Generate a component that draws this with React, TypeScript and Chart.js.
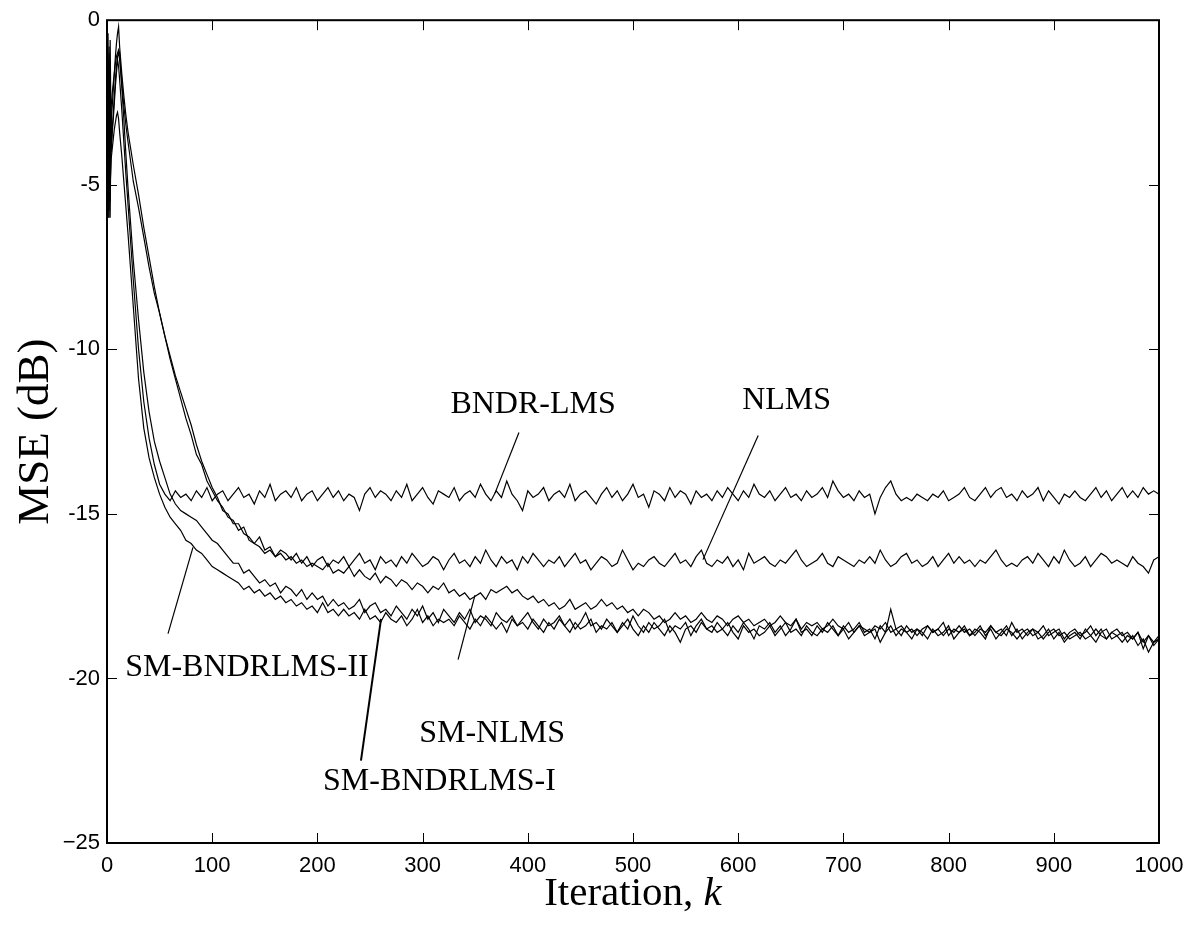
import React, { useEffect, useRef } from "react";
import { Chart, registerables } from "chart.js";

Chart.register(...registerables);

// Iteration grid: dense at the start, then every 5 iterations
const ITER_EARLY = [0, 1, 2, 3, 4, 5, 6, 7, 8, 9, 10, 11, 12, 14, 16, 18, 20];
const ITER_LATE_START = 25;
const ITER_LATE_STEP = 5;

const X_TICKS = [0, 100, 200, 300, 400, 500, 600, 700, 800, 900, 1000];
const Y_TICKS = [0, -5, -10, -15, -20, -25];
const Y_TICK_LABELS = ["0", "-5", "-10", "-15", "-20", "\u221225"];

// MSE (dB)
const BNDR_LMS = [
  -6.0, -0.4, -5.8, -2.2, -4.0, -3.4, -3.0, -2.5, -2.0, -1.6, -1.2, -1.4, -1.8, -2.7, -3.7, -4.7, -5.6,
  -7.9, -10.0, -11.6, -12.7, -13.5, -14.1, -14.4, -14.6, -14.3, -14.5,
  -14.4, -14.6, -14.3, -14.5, -14.2, -14.6, -14.4, -14.3, -14.6, -14.4,
  -14.2, -14.5, -14.4, -14.7, -14.3, -14.5, -14.1, -14.6, -14.4, -14.3,
  -14.5, -14.2, -14.6, -14.4, -14.3, -14.6, -14.4, -14.2, -14.5, -14.3,
  -14.6, -14.4, -14.5, -14.9, -14.4, -14.2, -14.5, -14.3, -14.4, -14.6,
  -14.3, -14.5, -14.1, -14.6, -14.4, -14.2, -14.5, -14.7, -14.3, -14.4,
  -14.5, -14.2, -14.6, -14.4, -14.3, -14.5, -14.1, -14.4, -14.6, -14.3,
  -14.5, -14.0, -14.4, -14.6, -14.9, -14.3, -14.5, -14.4, -14.2, -14.6,
  -14.4, -14.3, -14.5, -14.1, -14.6, -14.4, -14.3, -14.5, -14.7, -14.4,
  -14.2, -14.5, -14.3, -14.6, -14.4, -14.1, -14.5, -14.4, -14.8, -14.3,
  -14.4, -14.6, -14.2, -14.5, -14.3, -14.4, -14.7, -14.3, -14.5, -14.4,
  -14.6, -14.3, -14.5, -14.2, -14.4, -14.6, -14.3, -14.5, -14.1, -14.4,
  -14.5, -14.3, -14.6, -14.4, -14.2, -14.5, -14.4, -14.6, -14.3, -14.5,
  -14.4, -14.2, -14.5, -14.0, -14.3, -14.5, -14.4, -14.6, -14.3, -14.5,
  -14.4, -15.0, -14.5, -14.2, -14.0, -14.4, -14.6, -14.5, -14.6, -14.4,
  -14.5, -14.6, -14.4, -14.5, -14.3, -14.6, -14.5, -14.4, -14.2, -14.5,
  -14.6, -14.4, -14.2, -14.5, -14.3, -14.2, -14.5, -14.4, -14.6, -14.3,
  -14.5, -14.4, -14.2, -14.6, -14.3, -14.5, -14.7, -14.4, -14.5, -14.3,
  -14.5, -14.6, -14.4, -14.2, -14.5, -14.3, -14.6, -14.4, -14.2, -14.5,
  -14.3, -14.5, -14.2, -14.4, -14.3, -14.4,
];

const NLMS = [
  -0.3, -6.0, -1.0, -5.5, -3.0, -2.6, -2.1, -1.6, -1.1, -0.7, -0.4, -0.2, -0.8, -1.6, -2.3, -2.9, -3.4,
  -4.4, -5.3, -6.3, -7.2, -8.1, -8.9, -9.6, -10.3, -10.9, -11.5,
  -12.1, -12.6, -13.2, -13.5, -14.0, -14.3, -14.6, -14.8, -15.1, -15.2,
  -15.5, -15.4, -15.8, -15.9, -15.7, -16.1, -16.0, -16.3, -16.1, -16.2,
  -16.4, -16.2, -16.5, -16.3, -16.6, -16.4, -16.3, -16.6, -16.4, -16.5,
  -16.3, -16.6, -16.4, -16.2, -16.5, -16.4, -16.7, -16.3, -16.5, -16.4,
  -16.6, -16.3, -16.5, -16.2, -16.4, -16.6, -16.5, -16.3, -16.4, -16.7,
  -16.4, -16.2, -16.5, -16.4, -16.6, -16.3, -16.5, -16.1, -16.4, -16.6,
  -16.3, -16.5, -16.4, -16.7, -16.3, -16.5, -16.2, -16.4, -16.6, -16.4,
  -16.5, -16.3, -16.6, -16.4, -16.2, -16.5, -16.4, -16.7, -16.5, -16.3,
  -16.4, -16.6, -16.5, -16.1, -16.4, -16.7, -16.5, -16.6, -16.4, -16.3,
  -16.5, -16.6, -16.4, -16.2, -16.5, -16.4, -16.6, -16.3, -16.1, -16.5,
  -16.6, -16.4, -16.5, -16.3, -16.6, -16.4, -16.7, -16.2, -16.5, -16.4,
  -16.3, -16.5, -16.6, -16.4, -16.5, -16.3, -16.1, -16.4, -16.6, -16.5,
  -16.4, -16.2, -16.5, -16.6, -16.3, -16.4, -16.5, -16.6, -16.4, -16.5,
  -16.3, -16.5, -16.1, -16.4, -16.6, -16.5, -16.3, -16.2, -16.5, -16.4,
  -16.6, -16.5, -16.3, -16.6, -16.4, -16.2, -16.5, -16.3, -16.5, -16.4,
  -16.6, -16.4, -16.5, -16.3, -16.1, -16.4, -16.6, -16.5, -16.6, -16.4,
  -16.3, -16.5, -16.2, -16.4, -16.6, -16.3, -16.5, -16.1, -16.4, -16.6,
  -16.5, -16.3, -16.6, -16.4, -16.2, -16.3, -16.5, -16.4, -16.5, -16.6,
  -16.3, -16.5, -16.6, -16.8, -16.4, -16.3,
];

const SM_NLMS = [
  -5.8, -1.2, -6.0, -0.6, -3.8, -3.3, -2.8, -2.3, -1.8, -1.4, -1.1, -1.0, -1.2, -1.9, -2.6, -3.2, -3.7,
  -4.9, -5.7, -6.6, -7.5, -8.3, -8.9, -9.6, -10.2, -10.8, -11.3,
  -11.8, -12.3, -12.9, -13.4, -13.8, -14.2, -14.5, -14.9, -15.0, -15.3,
  -15.3, -15.6, -15.7, -15.9, -16.0, -16.2, -16.1, -16.3, -16.2, -16.4,
  -16.3, -16.5, -16.4, -16.6, -16.5, -16.6, -16.7, -16.5, -16.8, -16.7,
  -16.8, -16.6, -16.9, -16.7, -16.9, -17.0, -16.8, -17.1, -16.9, -17.0,
  -17.2, -17.0, -17.1, -17.3, -17.1, -17.2, -17.4, -17.2, -17.3, -17.1,
  -17.4, -17.3, -17.5, -17.4, -17.6, -17.5, -17.4, -17.6, -17.3, -17.4,
  -17.3, -17.2, -17.4, -17.3, -17.5, -17.6, -17.5, -17.7, -17.6, -17.8,
  -17.7, -17.9, -17.8, -17.6, -17.9, -17.8, -17.7, -17.9, -17.8, -17.6,
  -17.8, -17.7, -17.9, -17.8, -18.0, -17.9, -18.1, -17.9, -18.0, -18.2,
  -18.1, -18.3, -18.2, -18.0, -18.2, -18.1, -18.3, -18.2, -18.0, -18.2,
  -18.3, -18.1, -18.2, -18.4, -18.2, -18.1, -18.3, -18.2, -18.4, -18.3,
  -18.2, -18.4, -18.3, -18.1, -18.3, -18.4, -18.2, -18.5, -18.3, -18.4,
  -18.3, -18.5, -18.4, -18.2, -18.4, -18.5, -18.3, -18.6, -18.4, -18.5,
  -18.6, -18.4, -18.5, -18.3, -18.6, -18.5, -18.4, -18.6, -18.5, -18.7,
  -18.5, -18.4, -18.6, -18.5, -18.7, -18.5, -18.6, -18.4, -18.6, -18.5,
  -18.7, -18.5, -18.6, -18.4, -18.6, -18.7, -18.5, -18.6, -18.8, -18.6,
  -18.5, -18.7, -18.6, -18.8, -18.6, -18.5, -18.7, -18.6, -18.8, -18.7,
  -18.6, -18.8, -18.7, -18.5, -18.7, -18.8, -18.6, -18.7, -18.9, -18.7,
  -18.8, -18.6, -18.9, -18.7, -19.0, -18.8,
];

const SM_BNDRLMS_I = [
  -2.0, -5.5, -0.8, -6.0, -2.6, -2.2, -1.9, -1.6, -1.3, -1.1, -1.0, -0.9, -1.0, -2.0, -3.0, -4.1, -5.1,
  -7.3, -9.1, -10.7, -11.9, -12.8, -13.4, -13.9, -14.4, -14.7, -14.9,
  -15.0, -15.1, -15.2, -15.4, -15.6, -15.8, -15.9, -16.1, -16.3, -16.5,
  -16.5, -16.8, -16.7, -16.9, -17.1, -17.0, -17.2, -17.1, -17.4, -17.2,
  -17.3, -17.5, -17.3, -17.6, -17.4, -17.6, -17.5, -17.8, -17.6, -17.8,
  -17.7, -17.9, -17.8, -17.6, -18.0, -17.8, -17.7, -18.0, -17.9, -18.1,
  -17.8, -18.0, -18.2, -17.9, -18.1, -17.8, -18.2, -18.0, -18.3, -17.9,
  -18.1, -18.3, -18.0, -18.2, -17.9, -18.3, -18.1, -18.2, -18.4, -18.0,
  -18.2, -18.3, -18.1, -18.4, -18.2, -18.0, -18.3, -18.5, -18.2, -18.4,
  -18.3, -18.1, -18.4, -18.2, -18.5, -18.3, -18.0, -18.4, -18.3, -18.5,
  -18.2, -18.4, -18.6, -18.3, -18.5, -18.1, -18.4, -18.6, -18.3, -18.5,
  -18.4, -18.2, -18.6, -18.4, -18.5, -18.3, -18.7, -18.4, -18.2, -18.5,
  -18.6, -18.3, -18.5, -18.7, -18.4, -18.6, -18.3, -18.5, -18.8, -18.4,
  -18.5, -18.3, -18.6, -18.4, -18.7, -18.5, -18.2, -18.6, -18.5, -18.7,
  -18.4, -18.6, -18.3, -18.5, -18.7, -18.4, -18.6, -18.5, -18.3, -18.6,
  -18.5, -18.8, -18.4, -18.6, -17.9, -18.5, -18.7, -18.4, -18.6, -18.5,
  -18.7, -18.4, -18.6, -18.5, -18.3, -18.7, -18.5, -18.6, -18.4, -18.7,
  -18.5, -18.6, -18.8, -18.4, -18.6, -18.5, -18.7, -18.3, -18.6, -18.5,
  -18.7, -18.5, -18.6, -18.4, -18.7, -18.6, -18.5, -18.8, -18.6, -18.5,
  -18.7, -18.6, -18.4, -18.7, -18.5, -18.8, -18.6, -18.5, -18.7, -18.6,
  -18.8, -18.6, -19.1, -18.7, -18.9, -18.7,
];

const SM_BNDRLMS_II = [
  -4.0, -6.0, -2.5, -5.0, -4.2, -3.9, -3.6, -3.3, -3.1, -2.9, -2.8, -3.0, -3.4, -4.1, -4.9, -5.7, -6.5,
  -8.7, -10.9, -12.4, -13.3, -13.9, -14.4, -14.8, -15.1, -15.3, -15.5,
  -15.8, -15.9, -16.1, -16.2, -16.4, -16.6, -16.7, -16.8, -16.9, -17.0,
  -17.1, -17.3, -17.2, -17.4, -17.3, -17.5, -17.4, -17.6, -17.5, -17.7,
  -17.6, -17.8, -17.7, -17.9, -17.8, -18.0, -17.7, -18.0, -17.9, -18.1,
  -17.9, -18.1, -18.0, -18.2, -17.9, -18.2, -18.1, -18.3, -18.0, -18.2,
  -18.3, -18.1, -18.4, -18.2, -17.9, -18.3, -18.1, -18.4, -18.2, -18.3,
  -18.2, -18.4, -18.1, -18.3, -18.5, -18.2, -18.4, -18.1, -18.3, -18.5,
  -18.3, -18.6, -18.2, -18.4, -18.3, -18.5, -18.2, -18.4, -18.6, -18.3,
  -18.5, -18.2, -18.4, -18.6, -18.3, -18.5, -18.4, -18.2, -18.6, -18.4,
  -18.5, -18.3, -18.6, -18.4, -18.2, -18.5, -18.7, -18.4, -18.6, -18.3,
  -18.5, -18.7, -18.4, -18.6, -18.9, -18.5, -18.4, -18.6, -18.3, -18.5,
  -18.4, -18.6, -18.5, -18.3, -18.6, -18.8, -18.4, -18.6, -18.5, -18.7,
  -18.6, -18.4, -18.7, -18.5, -18.3, -18.6, -18.5, -18.7, -18.4, -18.6,
  -18.7, -18.5, -18.6, -18.4, -18.7, -18.5, -18.8, -18.6, -18.4, -18.7,
  -18.6, -18.5, -18.9, -18.6, -18.4, -18.7, -18.5, -18.6, -18.8, -18.5,
  -18.6, -18.8, -18.5, -18.7, -18.6, -18.4, -18.8, -18.6, -18.5, -18.7,
  -18.6, -18.4, -18.7, -18.5, -18.8, -18.6, -18.4, -18.7, -18.5, -18.8,
  -18.6, -18.5, -18.8, -18.7, -18.5, -18.8, -18.6, -18.9, -18.7, -18.6,
  -18.8, -18.5, -18.7, -18.9, -18.6, -18.5, -18.8, -18.7, -18.6, -18.9,
  -18.7, -19.0, -18.8, -19.2, -18.9, -18.8,
];

// Curve labels: text anchor (iteration, dB at baseline) and leader line ends
const LABEL_TEXTS = ["BNDR-LMS", "NLMS", "SM-BNDRLMS-II", "SM-NLMS", "SM-BNDRLMS-I"];
const LABEL_AT_K = [405, 646, 133, 366, 316];
const LABEL_AT_DB = [-11.93, -11.81, -19.94, -21.93, -23.4];
const LEADER_FROM_K = [391.6, 619, 58, 333.7, 241.4];
const LEADER_FROM_DB = [-12.53, -12.62, -18.64, -19.43, -22.5];
const LEADER_TO_K = [368.8, 566.5, 81.7, 349.8, 260.5];
const LEADER_TO_DB = [-14.37, -16.39, -16.02, -17.47, -18.19];

const SERIES = [BNDR_LMS, NLMS, SM_NLMS, SM_BNDRLMS_I, SM_BNDRLMS_II];
const SERIES_NAMES = ["BNDR-LMS", "NLMS", "SM-NLMS", "SM-BNDRLMS-I", "SM-BNDRLMS-II"];

function iterationAt(i: number): number {
  if (i < ITER_EARLY.length) return ITER_EARLY[i];
  return ITER_LATE_START + (i - ITER_EARLY.length) * ITER_LATE_STEP;
}

const SERIF = "'Liberation Serif', 'Times New Roman', serif";
const SANS = "'Liberation Sans', Arial, sans-serif";

const framePlugin = {
  id: "matlabFrame",
  afterDraw(chart: any) {
    const { ctx, chartArea } = chart;
    const { left, right, top, bottom } = chartArea;
    const xs = chart.scales.x;
    const ys = chart.scales.y;
    ctx.save();
    ctx.strokeStyle = "#000";
    ctx.lineWidth = 2;
    ctx.strokeRect(left, top, right - left, bottom - top);
    ctx.lineWidth = 1;
    const tl = 10;
    ctx.beginPath();
    X_TICKS.forEach((v) => {
      const px = Math.round(xs.getPixelForValue(v)) + 0.5;
      ctx.moveTo(px, bottom);
      ctx.lineTo(px, bottom - tl);
      ctx.moveTo(px, top);
      ctx.lineTo(px, top + tl);
    });
    Y_TICKS.forEach((v) => {
      const py = Math.round(ys.getPixelForValue(v)) + 0.5;
      ctx.moveTo(left, py);
      ctx.lineTo(left + tl, py);
      ctx.moveTo(right, py);
      ctx.lineTo(right - tl, py);
    });
    ctx.stroke();

    // leader lines
    LABEL_TEXTS.forEach((_, i) => {
      ctx.beginPath();
      ctx.lineWidth = i === 4 ? 2 : 1.2;
      ctx.moveTo(xs.getPixelForValue(LEADER_FROM_K[i]), ys.getPixelForValue(LEADER_FROM_DB[i]));
      ctx.lineTo(xs.getPixelForValue(LEADER_TO_K[i]), ys.getPixelForValue(LEADER_TO_DB[i]));
      ctx.stroke();
    });
    // curve labels
    ctx.fillStyle = "#000";
    ctx.font = `32px ${SERIF}`;
    ctx.textAlign = "center";
    ctx.textBaseline = "alphabetic";
    LABEL_TEXTS.forEach((t, i) => {
      ctx.fillText(t, xs.getPixelForValue(LABEL_AT_K[i]), ys.getPixelForValue(LABEL_AT_DB[i]));
    });

    // axis titles
    ctx.font = `41px ${SERIF}`;
    const cx = (left + right) / 2;
    const part1 = "Iteration, ";
    ctx.textAlign = "left";
    const w1 = ctx.measureText(part1).width;
    ctx.font = `italic 41px ${SERIF}`;
    const w2 = ctx.measureText("k").width;
    const startX = cx - (w1 + w2) / 2;
    ctx.font = `41px ${SERIF}`;
    ctx.fillText(part1, startX, bottom + 62);
    ctx.font = `italic 41px ${SERIF}`;
    ctx.fillText("k", startX + w1, bottom + 62);

    ctx.font = `45px ${SERIF}`;
    ctx.textAlign = "center";
    ctx.translate(left - 59, (top + bottom) / 2);
    ctx.rotate(-Math.PI / 2);
    ctx.fillText("MSE (dB)", 0, 0);
    ctx.restore();
  },
};

export default function App() {
  const canvasRef = useRef<HTMLCanvasElement | null>(null);

  useEffect(() => {
    if (!canvasRef.current) return;
    const datasets = SERIES.map((vals, s) => ({
      label: SERIES_NAMES[s],
      data: vals.map((v, i) => ({ x: iterationAt(i), y: v })),
      borderColor: "#000",
      borderWidth: 1.2,
      pointRadius: 0,
      fill: false,
      tension: 0,
    }));
    const chart = new Chart(canvasRef.current, {
      type: "line",
      data: { datasets },
      options: {
        animation: false,
        responsive: false,
        maintainAspectRatio: false,
        layout: { padding: { top: 13, right: 37, left: 0, bottom: 0 } },
        plugins: {
          legend: { display: false },
          tooltip: { enabled: false },
          title: { display: false },
        },
        scales: {
          x: {
            type: "linear",
            min: 0,
            max: 1000,
            afterFit: (scale: any) => {
              scale.height = 92;
            },
            afterBuildTicks: (scale: any) => {
              scale.ticks = X_TICKS.map((v) => ({ value: v }));
            },
            ticks: {
              color: "#000",
              font: { family: SANS, size: 22 },
              padding: 10,
              maxRotation: 0,
              callback: (v: any) => String(v),
            },
            grid: { display: false, drawTicks: false },
            border: { display: false },
          },
          y: {
            type: "linear",
            min: -25,
            max: 0,
            afterFit: (scale: any) => {
              scale.width = 107;
            },
            afterBuildTicks: (scale: any) => {
              scale.ticks = Y_TICKS.map((v) => ({ value: v }));
            },
            ticks: {
              color: "#000",
              font: { family: SANS, size: 22 },
              padding: 7,
              callback: (v: any) => {
                const idx = Y_TICKS.indexOf(Number(v));
                return idx >= 0 ? Y_TICK_LABELS[idx] : "";
              },
            },
            grid: { display: false, drawTicks: false },
            border: { display: false },
          },
        },
      },
      plugins: [framePlugin],
    });
    return () => chart.destroy();
  }, []);

  return (
    <div style={{ position: "absolute", left: 0, top: 0, width: 1196, height: 935, background: "#fff" }}>
      <canvas ref={canvasRef} width={1196} height={935} style={{ width: 1196, height: 935 }} />
    </div>
  );
}
